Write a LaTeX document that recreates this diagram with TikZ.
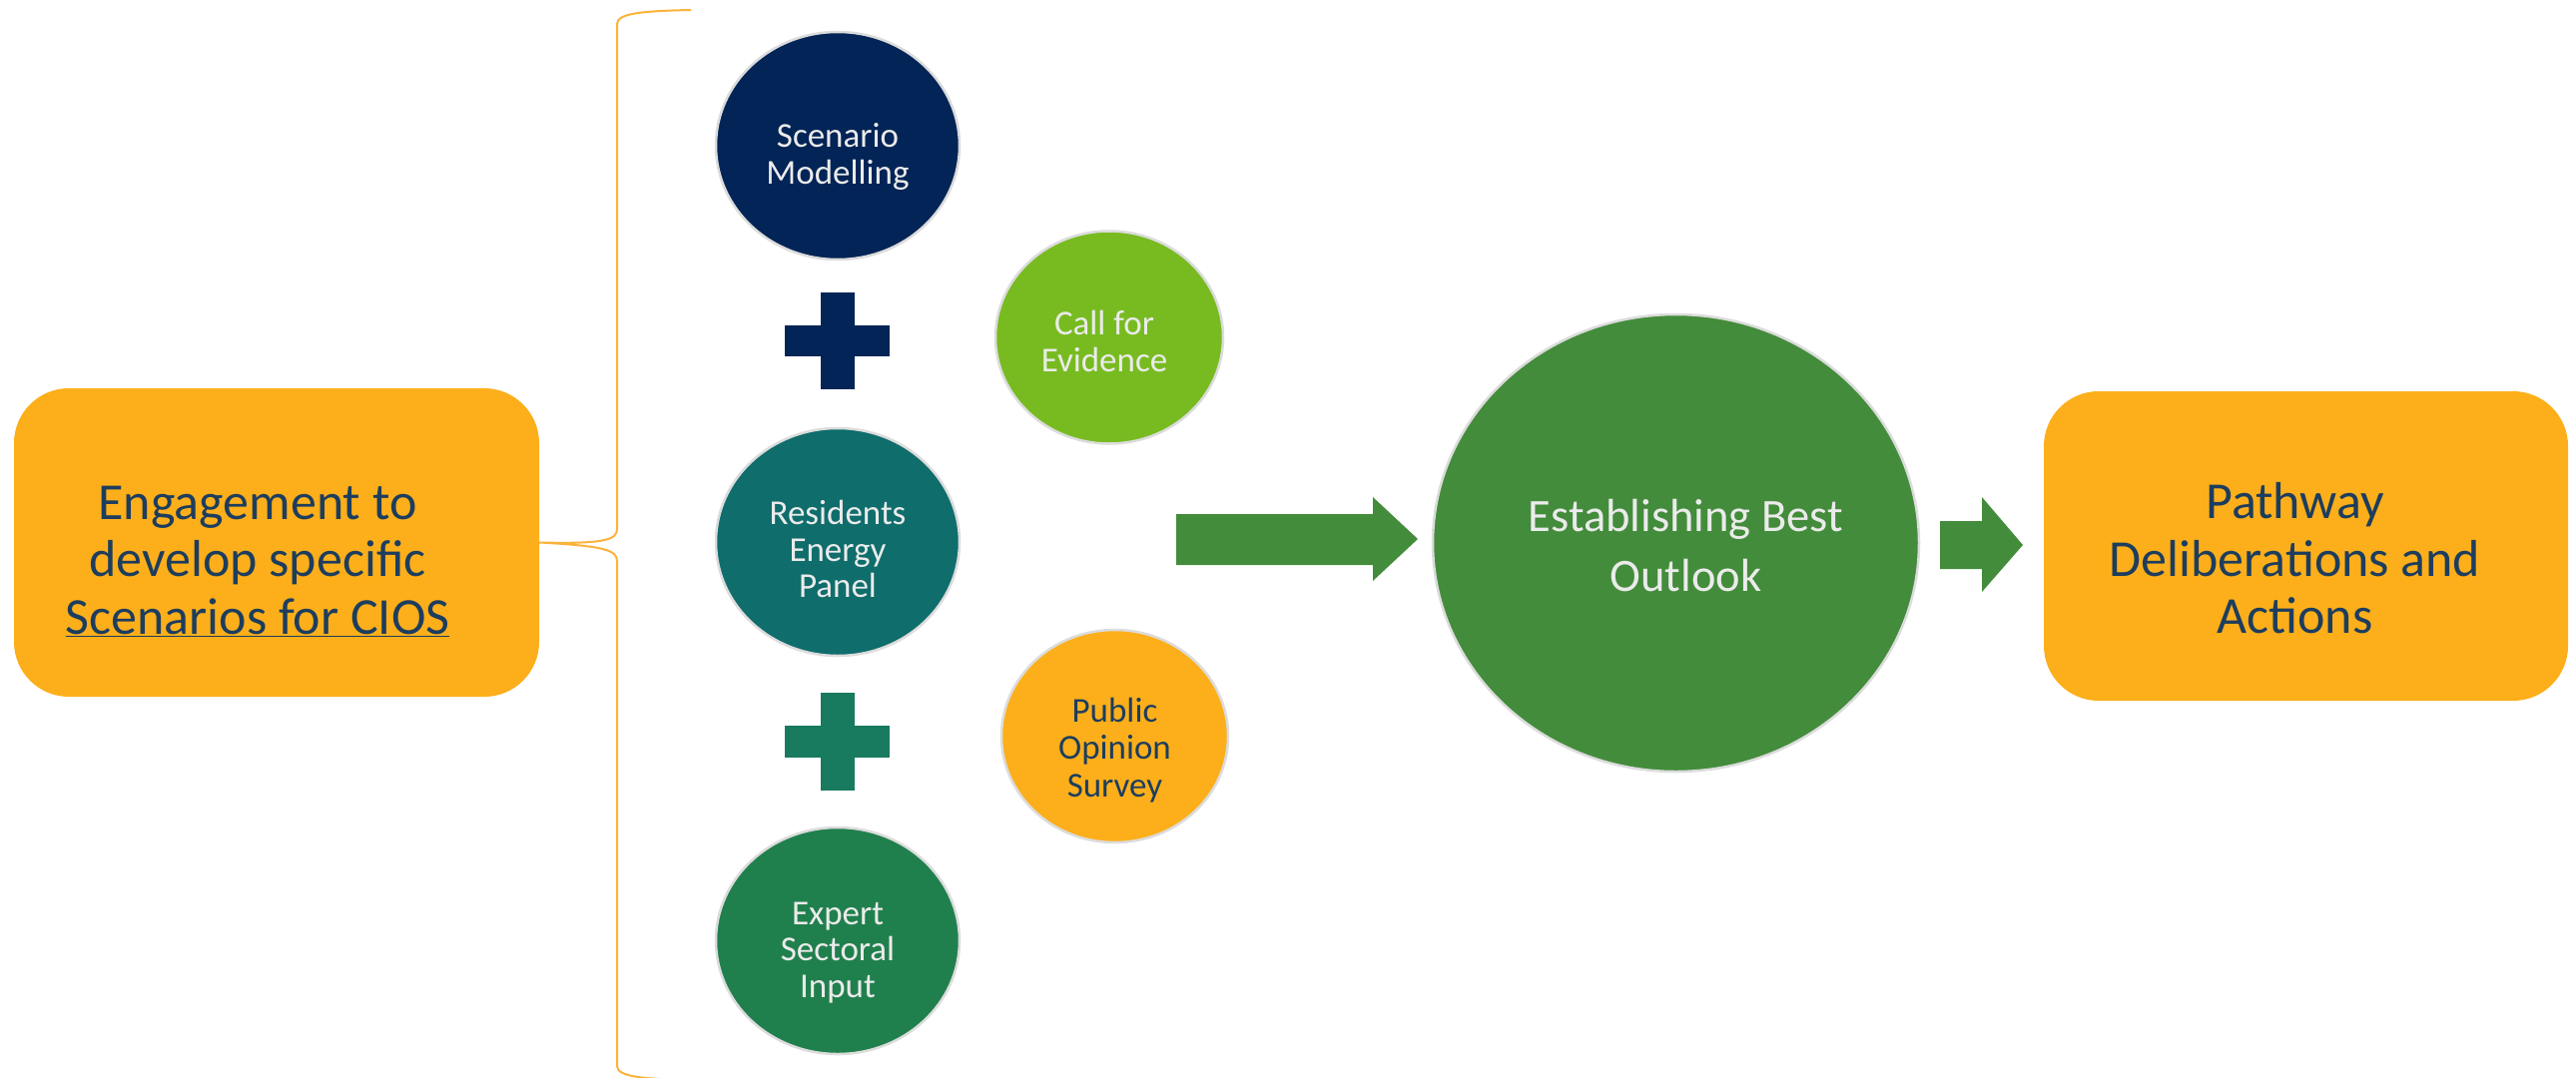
\documentclass[tikz,border=0pt]{standalone}
\usepackage{fontspec}
\setmainfont{Carlito}
\usetikzlibrary{shapes.geometric}
\definecolor{navyc}{HTML}{022456}
\definecolor{tealc}{HTML}{0F6D6C}
\definecolor{plustwo}{HTML}{187A5F}
\definecolor{expertc}{HTML}{20804D}
\definecolor{limec}{HTML}{78BB21}
\definecolor{orangec}{HTML}{FCAF1A}
\definecolor{bigg}{HTML}{438C3B}
\definecolor{darktxt}{HTML}{1D3D5E}
\definecolor{lighttxt}{HTML}{EBEBEB}
\definecolor{rimc}{HTML}{DCDCDC}
\definecolor{bracec}{HTML}{FBB33A}
\begin{document}
\begin{tikzpicture}[x=1pt,y=-1pt,
  circ/.style={ellipse, inner sep=0pt, draw=rimc, line width=2.5pt},
  smallc/.style={circ, minimum width=244pt, minimum height=228pt},
  sidec/.style={circ, minimum width=228pt, minimum height=213pt},
  boxc/.style={rectangle, rounded corners=55pt, fill=orangec, inner sep=0pt,
               minimum width=526pt, minimum height=309pt},
  tw/.style={align=center, text=lighttxt, font=\fontsize{35}{36.5}\selectfont},
  td/.style={align=center, text=darktxt, font=\fontsize{35}{37.5}\selectfont},
  tbig/.style={align=center, text=lighttxt, font=\fontsize{46.5}{60}\selectfont},
  tbox/.style={align=center, text=darktxt, font=\fontsize{52}{57.5}\selectfont},
  bracel/.style={draw=bracec, line width=2pt}
]
\useasboundingbox (0,0) rectangle (2580,1079);
\fill[white] (0,0) rectangle (2580,1079);

% left box
\node[boxc, label={[tbox, xshift=-19pt, yshift=-18.5pt]center:{Engagement to\\develop specific\\\underline{Scenarios for CIOS}}}] (em) at (277,543.5) {};

% brace
\draw[bracel] (692,10) .. controls (645,11) and (618,13) .. (618,24)
  -- (618,530) .. controls (618,541) and (605,545) .. (em.east)
  .. controls (605,547) and (618,551) .. (618,562)
  -- (618,1068) .. controls (618,1079) and (645,1081) .. (692,1082);

% column of circles
\node[smallc, fill=navyc, label={[tw, yshift=-11pt]center:{Scenario\\Modelling}}] (sm) at (839,146) {};
\node[smallc, fill=tealc, label={[tw, yshift=-7pt]center:{Residents\\Energy\\Panel}}] (rep) at (839,543) {};
\node[smallc, fill=expertc, minimum height=227pt, label={[tw, yshift=-12pt]center:{Expert\\Sectoral\\Input}}] (esi) at (839,942.5) {};

% plus signs
\fill[navyc] (822,293) rectangle (856,390);
\fill[navyc] (786,326) rectangle (891,357);
\fill[plustwo] (822,694) rectangle (856,792);
\fill[plustwo] (786,727) rectangle (891,759);

% side circles
\node[sidec, fill=limec, label={[tw, xshift=-5pt, yshift=-4pt]center:{Call for\\Evidence}}] (cfe) at (1111,338) {};
\node[sidec, fill=orangec, minimum width=227pt, label={[td, yshift=-14pt]center:{Public\\Opinion\\Survey}}] (pos) at (1116.5,737.5) {};

% big arrow
\fill[bigg] (1178,515) -- (1375,515) -- (1375,498) -- (1420,540) -- (1375,582) -- (1375,566) -- (1178,566) -- cycle;

% big circle
\node[circ, fill=bigg, minimum width=487pt, minimum height=458pt, label={[tbig, xshift=10pt, yshift=-3pt]center:{Establishing Best\\Outlook}}] (ebo) at (1678.5,544) {};

% small arrow
\fill[bigg] (1943,522) -- (1985,522) -- (1985,498) -- (2026,546) -- (1985,593) -- (1985,570) -- (1943,570) -- cycle;

% right box
\node[boxc, minimum width=525pt, minimum height=310pt, label={[tbox, xshift=-11pt, yshift=-12.5pt]center:{Pathway\\Deliberations and\\Actions}}] (pda) at (2309.5,547) {};
\end{tikzpicture}
\end{document}
